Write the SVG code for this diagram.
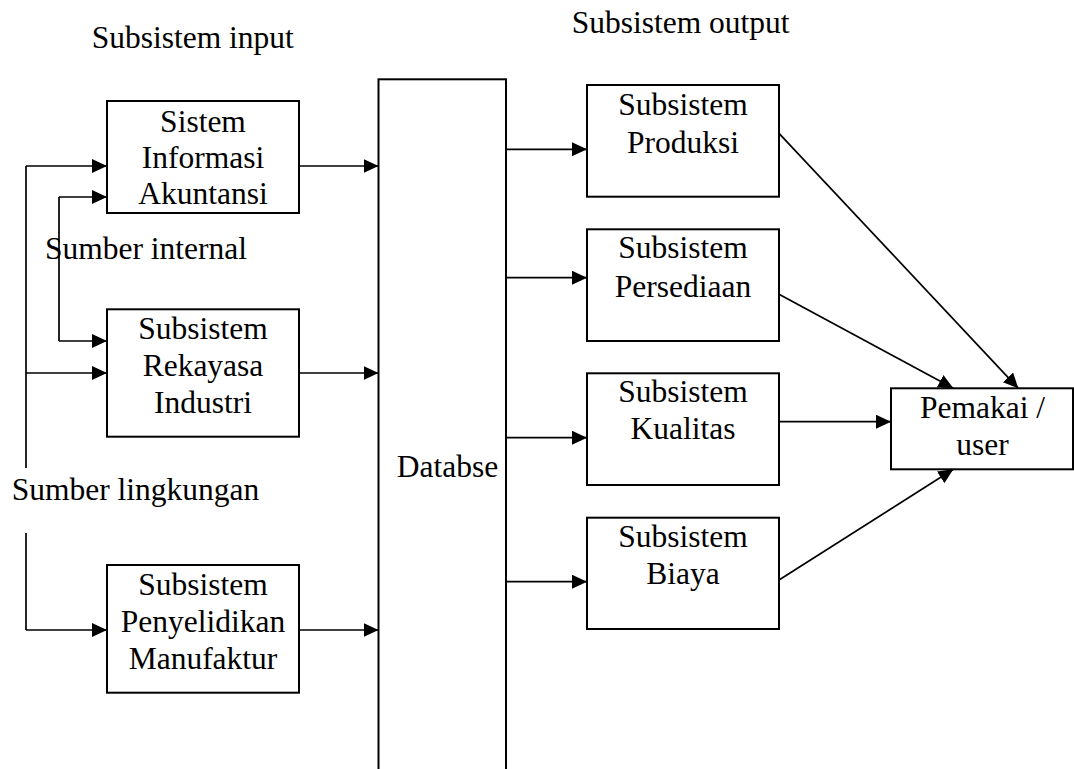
<svg xmlns="http://www.w3.org/2000/svg" width="1074" height="769" viewBox="0 0 1074 769">
  <style>
    .box { fill: #ffffff; stroke: #000000; stroke-width: 2; }
    .wire { fill: none; stroke: #000000; stroke-width: 1.7; }
    .lbl { font-family: 'Liberation Serif', 'DejaVu Serif', 'Times New Roman', Times, serif; font-size: 31.5px; fill: #000000; }
    .mid { text-anchor: middle; }
  </style>
  <defs>
    <marker id="arrow" markerUnits="userSpaceOnUse" markerWidth="16" markerHeight="15" refX="15" refY="7" orient="auto">
      <path d="M0,0 L15,7 L0,14 z" fill="#000000"/>
    </marker>
  </defs>
  <rect width="1074" height="769" fill="#ffffff"/>

  <g font-family="Liberation Serif, DejaVu Serif, serif">
  <!-- section headings and free labels -->
  <text class="lbl" x="91.7" y="48.3">Subsistem input</text>
  <text class="lbl" x="571.7" y="33.3">Subsistem output</text>

  <!-- connectors -->
  <g id="connectors">
    <!-- environment source feed -->
    <path class="wire" d="M26,166 V468"/>
    <path class="wire" d="M26,533 V630"/>
    <path class="wire" d="M26,166 H107" marker-end="url(#arrow)"/>
    <path class="wire" d="M26,373 H107" marker-end="url(#arrow)"/>
    <path class="wire" d="M26,630 H107" marker-end="url(#arrow)"/>
    <!-- internal source feed -->
    <path class="wire" d="M59,197 V341"/>
    <path class="wire" d="M59,197 H107" marker-end="url(#arrow)"/>
    <path class="wire" d="M59,341 H107" marker-end="url(#arrow)"/>
    <!-- inputs to database -->
    <path class="wire" d="M299,166 H378.5" marker-end="url(#arrow)"/>
    <path class="wire" d="M299,373 H378.5" marker-end="url(#arrow)"/>
    <path class="wire" d="M299,630 H378.5" marker-end="url(#arrow)"/>
    <!-- database to outputs -->
    <path class="wire" d="M506,149.3 H587" marker-end="url(#arrow)"/>
    <path class="wire" d="M506,277.7 H587" marker-end="url(#arrow)"/>
    <path class="wire" d="M506,437.7 H587" marker-end="url(#arrow)"/>
    <path class="wire" d="M506,581.7 H587" marker-end="url(#arrow)"/>
    <!-- outputs to user -->
    <path class="wire" d="M779,133.3 L1018.3,388.3" marker-end="url(#arrow)"/>
    <path class="wire" d="M779,294.3 L953.3,388.3" marker-end="url(#arrow)"/>
    <path class="wire" d="M779,421.7 H891" marker-end="url(#arrow)"/>
    <path class="wire" d="M779,580 L953.3,469.3" marker-end="url(#arrow)"/>
  </g>

  <text class="lbl" x="45" y="259.3">Sumber internal</text>
  <text class="lbl" x="11.7" y="500">Sumber lingkungan</text>

  <!-- input subsystems -->
  <g id="sia">
    <rect class="box" x="107" y="101" width="192" height="112"/>
    <text class="lbl mid" x="203" y="131.7">Sistem</text>
    <text class="lbl mid" x="203" y="168.3">Informasi</text>
    <text class="lbl mid" x="203" y="204.3">Akuntansi</text>
  </g>
  <g id="rekayasa">
    <rect class="box" x="107" y="309.3" width="192" height="127.4"/>
    <text class="lbl mid" x="203" y="339.3">Subsistem</text>
    <text class="lbl mid" x="203" y="376">Rekayasa</text>
    <text class="lbl mid" x="203" y="413.3">Industri</text>
  </g>
  <g id="penyelidikan">
    <rect class="box" x="107" y="565" width="192" height="127.7"/>
    <text class="lbl mid" x="203" y="595">Subsistem</text>
    <text class="lbl mid" x="203" y="631.7">Penyelidikan</text>
    <text class="lbl mid" x="203" y="669.3">Manufaktur</text>
  </g>

  <!-- central database column -->
  <g id="database">
    <rect class="box" x="378.5" y="79.3" width="127.5" height="710"/>
    <text class="lbl" x="396.7" y="476.7">Databse</text>
  </g>

  <!-- output subsystems -->
  <g id="produksi">
    <rect class="box" x="587" y="85" width="192" height="111.7"/>
    <text class="lbl mid" x="683" y="115">Subsistem</text>
    <text class="lbl mid" x="683" y="152.7">Produksi</text>
  </g>
  <g id="persediaan">
    <rect class="box" x="587" y="229.3" width="192" height="111.7"/>
    <text class="lbl mid" x="683" y="258.3">Subsistem</text>
    <text class="lbl mid" x="683" y="296.7">Persediaan</text>
  </g>
  <g id="kualitas">
    <rect class="box" x="587" y="373.3" width="192" height="111.7"/>
    <text class="lbl mid" x="683" y="401.7">Subsistem</text>
    <text class="lbl mid" x="683" y="439">Kualitas</text>
  </g>
  <g id="biaya">
    <rect class="box" x="587" y="517.7" width="192" height="111.3"/>
    <text class="lbl mid" x="683" y="546.7">Subsistem</text>
    <text class="lbl mid" x="683" y="584">Biaya</text>
  </g>

  <!-- user -->
  <g id="pemakai">
    <rect class="box" x="891" y="388.3" width="182" height="81"/>
    <text class="lbl mid" x="982.5" y="418">Pemakai /</text>
    <text class="lbl mid" x="982.5" y="455">user</text>
  </g>
  </g>
</svg>
